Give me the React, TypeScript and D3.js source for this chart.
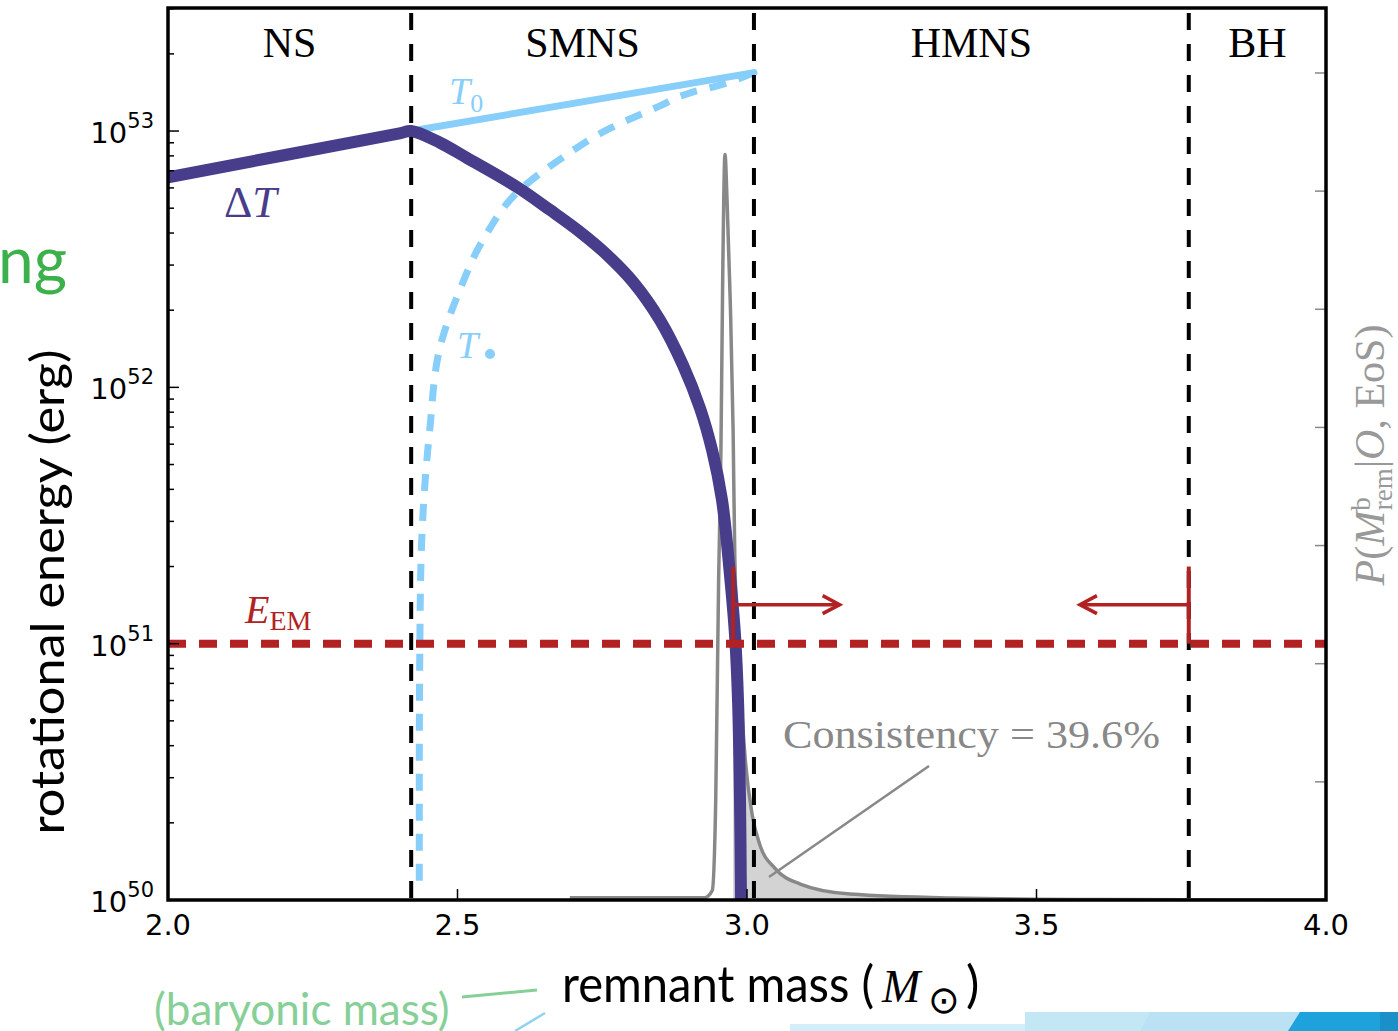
import React from 'react'
import * as d3 from 'd3'

// remnant (baryonic) mass boundaries between regimes
const regionEdges = [2.42, 3.012, 3.763]
const regionNames = ['NS', 'SMNS', 'HMNS', 'BH']

const xTicks = [2.0, 2.5, 3.0, 3.5, 4.0]
const yExponents = [50, 51, 52, 53]
const pTicks = [0, 1, 2, 3, 4, 5, 6, 7]

// Delta T (erg) vs remnant mass
const dtMass = [2.0, 2.40, 2.42, 2.4698, 2.5164, 2.6028, 2.6598, 2.7116, 2.7582, 2.8031, 2.8497, 2.8895, 2.9188, 2.9396, 2.9568, 2.9706, 2.9793, 2.9845, 2.9879, 2.9896, 2.9905]
const dtEnergy = [6.6e52, 9.8e52, 1.0e53, 9.0e52, 7.85e52, 6.05e52, 4.92e52, 4.04e52, 3.29e52, 2.58e52, 1.83e52, 1.22e52, 8.3e51, 5.7e51, 3.64e51, 1.85e51, 1.08e51, 6.0e50, 2.46e50, 1.0e50, 7e49]

// T0 solid line
const t0Mass = [2.42, 3.012]
const t0Energy = [1.0e53, 1.69e53]

// T-dot dashed curve
const tdMass = [3.012, 2.953, 2.902, 2.845, 2.758, 2.682, 2.608, 2.544, 2.504, 2.470, 2.452, 2.442, 2.437, 2.435, 2.434, 2.434]
const tdEnergy = [1.69e53, 1.51e53, 1.41e53, 1.24e53, 1.01e53, 7.9e52, 5.9e52, 3.76e52, 2.4e52, 1.44e52, 6.8e51, 3.7e51, 2.1e51, 1.0e51, 3.0e50, 1.1e50]

// posterior of remnant mass
const pdfMass = [2.694, 2.927, 2.940, 2.946, 2.951, 2.955, 2.958, 2.962, 2.9655, 2.971, 2.976, 2.979, 2.988, 2.997, 3.009, 3.022, 3.048, 3.092, 3.178, 3.351, 3.610, 4.0]
const pdfValue = [0.02, 0.02, 0.08, 0.85, 2.71, 3.81, 5.25, 6.31, 5.93, 5.08, 3.98, 2.88, 1.86, 1.19, 0.72, 0.47, 0.27, 0.135, 0.05, 0.017, 0.004, 0]

const eEM = 1e51
const consistentRange = [2.976, 3.763]
const arrowTips = [3.16, 3.575]
const arrowEnergy = 1.42e51
const barEnergy = [1.0e51, 2.0e51]

const serif = '"Liberation Serif", "DejaVu Serif", serif'
const sans = 'Lato, "Open Sans", sans-serif'
const dejavu = '"DejaVu Sans", sans-serif'

export default function App() {
  const x = d3.scaleLinear().domain([2.0, 4.0]).range([168, 1326])
  const y = d3.scaleLog().domain([1e50, 3.02e53]).range([900, 8])
  const yP = d3.scaleLinear().domain([0, 7.55]).range([900, 8])

  const dtLine = d3.line<number>().x((d, i) => x(dtMass[i])).y(d => y(d)).curve(d3.curveCatmullRom.alpha(0.5))
  const t0Line = d3.line<number>().x((d, i) => x(t0Mass[i])).y(d => y(d))
  const tdLine = d3.line<number>().x((d, i) => x(tdMass[i])).y(d => y(d)).curve(d3.curveMonotoneY)
  const pdfLine = d3.line<number>().x((d, i) => x(pdfMass[i])).y(d => yP(d)).curve(d3.curveMonotoneX)
  const pdfArea = d3.area<number>().x((d, i) => x(pdfMass[i])).y0(yP(0)).y1(d => yP(d)).curve(d3.curveMonotoneX)

  const edges = [2.0, ...regionEdges, 4.0]
  const minorTicks = y.ticks().filter(t => {
    const m = t / Math.pow(10, Math.floor(Math.log10(t) + 1e-9))
    return Math.abs(m - 1) > 1e-6
  })

  const yA = y(arrowEnergy)
  const redC = '#b22222'

  return (
    <svg width={1398} height={1031} style={{ position: 'absolute', left: 0, top: 0, background: '#fff' }}>
      <defs>
        <clipPath id="plot"><rect x={168} y={8} width={1158} height={892} /></clipPath>
        <clipPath id="fillclip"><rect x={x(consistentRange[0])} y={8} width={x(consistentRange[1]) - x(consistentRange[0])} height={892} /></clipPath>
      </defs>

      {/* slide leftovers */}
      <text x={-2} y={283} fontFamily={sans} fontSize={64} fill="#3cb04a">ng</text>
      <text x={154} y={1025} fontFamily={sans} fontSize={44} fill="#86d097">(baryonic mass)</text>
      <line x1={462} y1={997} x2={537} y2={990} stroke="#86d097" strokeWidth={3} />
      <line x1={515} y1={1031} x2={545} y2={1013} stroke="#8fd3f0" strokeWidth={2.5} />
      <polygon points="790,1024 1030,1024 1030,1031 790,1031" fill="#d4eef9" />
      <polygon points="1025,1012 1300,1012 1290,1031 1025,1031" fill="#c4e7f6" />
      <polygon points="1150,1012 1300,1012 1290,1031 1140,1031" fill="#bbe2f4" />
      <polygon points="1300,1012 1398,1012 1398,1031 1288,1031" fill="#1ea2dc" />
      <rect x={1380} y={1012} width={18} height={19} fill="#1a8fc8" />

      <g clipPath="url(#plot)">
        <path d={pdfArea(pdfValue) ?? ''} fill="#d3d3d3" clipPath="url(#fillclip)" />
        <path d={pdfLine(pdfValue) ?? ''} fill="none" stroke="#888" strokeWidth={3.5} />
        <path d={t0Line(t0Energy) ?? ''} fill="none" stroke="#87cefa" strokeWidth={7} strokeLinecap="round" />
        <path d={tdLine(tdEnergy) ?? ''} fill="none" stroke="#87cefa" strokeWidth={7} strokeDasharray="17,13" />
        <path d={dtLine(dtEnergy) ?? ''} fill="none" stroke="#483d8b" strokeWidth={12} strokeLinejoin="round" />
        <line x1={168} x2={1326} y1={y(eEM)} y2={y(eEM)} stroke={redC} strokeWidth={8} strokeDasharray="18,13" />
        {regionEdges.map(m => (
          <line key={m} x1={x(m)} x2={x(m)} y1={8} y2={900} stroke="#000" strokeWidth={4} strokeDasharray="17,14" strokeDashoffset={-5} />
        ))}
      </g>

      {/* red arrows */}
      {consistentRange.map((m, i) => {
        const x0 = x(m), x1 = x(arrowTips[i])
        const dir = x1 > x0 ? 1 : -1
        return (
          <g key={m} stroke={redC} fill="none" strokeWidth={3.5}>
            <line x1={x0} x2={x0} y1={y(barEnergy[1])} y2={y(barEnergy[0])} strokeWidth={4} />
            <line x1={x0} x2={x1} y1={yA} y2={yA} />
            <path d={`M${x1 - dir * 17},${yA - 9} L${x1},${yA} L${x1 - dir * 17},${yA + 9}`} />
          </g>
        )
      })}

      {/* consistency annotation */}
      <line x1={929} y1={766} x2={769} y2={877} stroke="#888" strokeWidth={2.5} />
      <text x={783} y={748} fontFamily={serif} fontSize={40} fill="#888" textLength={377} lengthAdjust="spacingAndGlyphs">Consistency = 39.6%</text>

      {/* region labels */}
      {regionNames.map((n, i) => (
        <text key={n} x={x((edges[i] + edges[i + 1]) / 2)} y={57} textAnchor="middle" fontFamily={serif} fontSize={42} fill="#000">{n}</text>
      ))}

      {/* curve labels */}
      <text x={449} y={104} fontFamily={serif} fontSize={38} fill="#87cefa"><tspan fontStyle="italic">T</tspan><tspan fontSize={26} dy={8}>0</tspan></text>
      <text x={457} y={358} fontFamily={serif} fontSize={38} fill="#87cefa"><tspan fontStyle="italic">T</tspan></text>
      <circle cx={490} cy={354} r={5} fill="#87cefa" />
      <text x={224} y={217} fontFamily={serif} fontSize={44} fill="#483d8b">Δ<tspan fontStyle="italic">T</tspan></text>
      <text x={245} y={623} fontFamily={serif} fontSize={40} fill={redC}><tspan fontStyle="italic">E</tspan><tspan fontSize={28} dy={7}>EM</tspan></text>

      {/* ticks */}
      <g stroke="#000" strokeWidth={1.5}>
        {yExponents.map(e => <line key={e} x1={168} x2={179} y1={y(Math.pow(10, e))} y2={y(Math.pow(10, e))} />)}
        {minorTicks.map(t => <line key={t} x1={168} x2={174} y1={y(t)} y2={y(t)} />)}
        {xTicks.map(t => <line key={t} x1={x(t)} x2={x(t)} y1={900} y2={889} />)}
      </g>
      <g stroke="#888" strokeWidth={1.5}>
        {pTicks.map(t => <line key={t} x1={1326} x2={1315} y1={yP(t)} y2={yP(t)} />)}
      </g>

      {/* frame */}
      <rect x={168} y={8} width={1158} height={892} fill="none" stroke="#000" strokeWidth={3.5} />

      {/* tick labels */}
      {xTicks.map(t => (
        <text key={t} x={x(t)} y={935} textAnchor="middle" fontFamily={dejavu} fontSize={29} fill="#000">{d3.format('.1f')(t)}</text>
      ))}
      {yExponents.map(e => (
        <text key={e} x={154} y={y(Math.pow(10, e)) + 12} textAnchor="end" fontFamily={dejavu} fontSize={29} fill="#000">
          10<tspan fontSize={21} dy={-15}>{e}</tspan>
        </text>
      ))}

      {/* axis labels */}
      <text transform="translate(64,592) rotate(-90)" textAnchor="middle" fontFamily={sans} fontSize={47} fill="#000" textLength={485} lengthAdjust="spacingAndGlyphs">rotational energy (erg)</text>
      <text x={562} y={1002} fontFamily={sans} fontSize={50} fill="#000" textLength={312} lengthAdjust="spacingAndGlyphs">remnant mass (</text>
      <text x={882} y={1002} fontFamily={serif} fontStyle="italic" fontSize={46} fill="#000">M</text>
      <text x={928} y={1013} fontFamily={dejavu} fontSize={38} fill="#000">⊙</text>
      <text x={966} y={1002} fontFamily={sans} fontSize={50} fill="#000">)</text>
      <text transform="translate(1384,455) rotate(-90)" textAnchor="middle" fontFamily={serif} fontSize={42} fill="#999">
        <tspan fontStyle="italic">P</tspan>(<tspan fontStyle="italic">M</tspan><tspan fontSize={27} dy={-14}>b</tspan><tspan fontSize={27} dx={-13} dy={22}>rem</tspan><tspan dy={-8}>|</tspan><tspan fontStyle="italic">O</tspan>, EoS)
      </text>
    </svg>
  )
}
